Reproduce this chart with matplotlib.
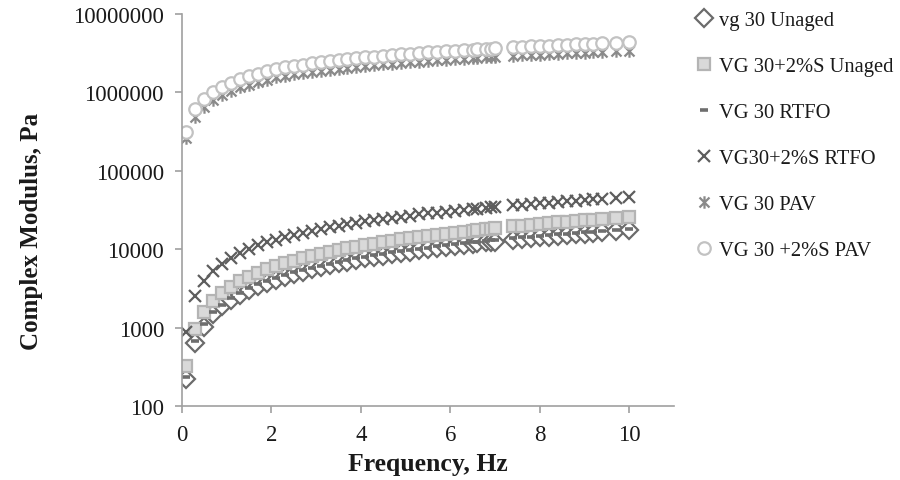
import matplotlib
matplotlib.use("Agg")
import matplotlib.pyplot as plt
from matplotlib.path import Path
from matplotlib.ticker import FixedLocator, FuncFormatter

plt.rcParams['font.family'] = ['Liberation Serif', 'DejaVu Serif']

freq = [0.1, 0.3, 0.5, 0.7, 0.9, 1.1, 1.3, 1.5, 1.7, 1.9, 2.1, 2.3, 2.5, 2.7, 2.9,
        3.1, 3.3, 3.5, 3.7, 3.9, 4.1, 4.3, 4.5, 4.7, 4.9, 5.1, 5.3, 5.5, 5.7, 5.9,
        6.1, 6.3, 6.5, 6.6, 6.8, 6.9, 7.0, 7.4, 7.6, 7.8, 8.0, 8.2, 8.4, 8.6, 8.8,
        9.0, 9.2, 9.4, 9.7, 10.0]

vg30_unaged = [221, 630, 1030, 1471, 1859, 2240, 2617, 2989, 3358, 3724, 4087, 4448,
               4807, 5164, 5518, 5871, 6222, 6573, 6921, 7269, 7615, 7960, 8304, 8646,
               8988, 9328, 9668, 10006, 10345, 10683, 11018, 11354, 11689, 11856, 12189,
               12356, 12523, 13187, 13517, 13848, 14177, 14507, 14836, 15166, 15494,
               15819, 16147, 16473, 16961, 17448]

vg30s_unaged = [327, 960, 1570, 2177, 2751, 3315, 3873, 4424, 4970, 5512, 6049, 6583,
                7114, 7643, 8167, 8689, 9209, 9728, 10243, 10758, 11270, 11781, 12290,
                12796, 13302, 13805, 14309, 14809, 15311, 15811, 16307, 16804, 17300,
                17547, 18040, 18287, 18534, 19517, 20005, 20495, 20982, 21470, 21957,
                22446, 22931, 23412, 23898, 24380, 25102, 25823]

vg30_rtfo = [235, 670, 1110, 1560, 1970, 2370, 2770, 3160, 3550, 3940, 4320, 4700,
             5080, 5450, 5820, 6190, 6560, 6930, 7290, 7660, 8020, 8380, 8740, 9100,
             9450, 9810, 10160, 10510, 10860, 11210, 11560, 11900, 12250, 12420, 12770,
             12940, 13110, 13790, 14130, 14470, 14800, 15140, 15470, 15800, 16130,
             16460, 16790, 17120, 17600, 18000]

vg30s_rtfo = [890, 2550, 3960, 5200, 6500, 7750, 8950, 10100, 11160, 12199, 13215,
              14214, 15194, 16159, 17110, 18047, 18972, 19887, 20790, 21687, 22571,
              23448, 24317, 25178, 26030, 26876, 27717, 28550, 29377, 30200, 31015,
              31826, 32630, 33034, 33830, 34228, 34623, 36199, 36979, 37756, 38526,
              39297, 40062, 40823, 41581, 42336, 43088, 43834, 44948, 46058]

vg30_pav = [2.6e5, 4.9e5, 6.5e5, 7.9e5, 9.2e5, 1.04e6, 1.16e6, 1.26e6, 1.36e6, 1.45e6,
            1.558e6, 1.631e6, 1.700e6, 1.767e6, 1.831e6, 1.894e6, 1.954e6, 2.012e6,
            2.069e6, 2.124e6, 2.178e6, 2.230e6, 2.282e6, 2.331e6, 2.381e6, 2.429e6,
            2.476e6, 2.523e6, 2.568e6, 2.612e6, 2.656e6, 2.700e6, 2.742e6, 2.763e6,
            2.805e6, 2.825e6, 2.845e6, 2.926e6, 2.965e6, 3.004e6, 3.042e6, 3.079e6,
            3.117e6, 3.154e6, 3.190e6, 3.227e6, 3.262e6, 3.297e6, 3.349e6, 3.401e6]

vg30s_pav = [3.1e5, 6.1e5, 8.2e5, 1.0e6, 1.17e6, 1.33e6, 1.48e6, 1.61e6, 1.74e6, 1.86e6,
             1.998e6, 2.091e6, 2.180e6, 2.266e6, 2.348e6, 2.428e6, 2.505e6, 2.580e6,
             2.652e6, 2.723e6, 2.792e6, 2.859e6, 2.925e6, 2.989e6, 3.052e6, 3.114e6,
             3.174e6, 3.234e6, 3.292e6, 3.349e6, 3.405e6, 3.461e6, 3.515e6, 3.542e6,
             3.596e6, 3.622e6, 3.648e6, 3.751e6, 3.801e6, 3.851e6, 3.900e6, 3.948e6,
             3.996e6, 4.044e6, 4.090e6, 4.137e6, 4.182e6, 4.227e6, 4.294e6, 4.360e6]

labels = ["vg 30 Unaged", "VG 30+2%S Unaged", "VG 30 RTFO", "VG30+2%S RTFO",
          "VG 30 PAV", "VG 30 +2%S PAV"]
y_ticks = [100, 1000, 10000, 100000, 1000000, 10000000]
x_ticks = [0, 2, 4, 6, 8, 10]

star = Path([(-1, -1), (1, 1), (-1, 1), (1, -1), (0, -1.25), (0, 1.25)],
            [Path.MOVETO, Path.LINETO, Path.MOVETO, Path.LINETO, Path.MOVETO, Path.LINETO])

fig = plt.figure(figsize=(9, 4.81), dpi=100)
ax = fig.add_axes([182 / 900, 1 - 407 / 481, 492 / 900, 392 / 481])

styles = [
    dict(marker='D', ms=9, mfc='white', mec='#6b6b6b', mew=1.6),
    dict(marker='s', ms=8.5, mfc='#d9d9d9', mec='#b4b4b4', mew=1.6),
    dict(marker='_', ms=6, mec='#6e6e6e', mew=2.6),
    dict(marker='x', ms=9, mec='#5e5e5e', mew=1.6),
    dict(marker=star, ms=9, mec='#8a8a8a', mew=1.6),
    dict(marker='o', ms=9, mfc='white', mec='#c2c2c2', mew=1.6),
]
series = [vg30_unaged, vg30s_unaged, vg30_rtfo, vg30s_rtfo, vg30_pav, vg30s_pav]
for vals, st, lab in zip(series, styles, labels):
    ax.plot(freq, vals, linestyle='none', label=lab, **st)

ax.set_yscale('log')
ax.set_ylim(100, 1e7)
ax.set_xlim(0, 11)
ax.yaxis.set_major_locator(FixedLocator(y_ticks))
ax.yaxis.set_minor_locator(FixedLocator([]))
ax.yaxis.set_major_formatter(FuncFormatter(lambda v, p: "%d" % round(v)))
ax.xaxis.set_major_locator(FixedLocator(x_ticks))
ax.xaxis.set_major_formatter(FuncFormatter(lambda v, p: "%d" % round(v)))

for s in ['top', 'right']:
    ax.spines[s].set_visible(False)
for s in ['left', 'bottom']:
    ax.spines[s].set_color('#a0a0a0')
    ax.spines[s].set_linewidth(1.2)
ax.tick_params(axis='both', which='major', length=5, width=1.2, color='#a0a0a0',
               labelsize=16.5, labelcolor='#1a1a1a', direction='out')
ax.tick_params(axis='y', pad=8)
ax.tick_params(axis='x', pad=8)

ax.set_ylabel("Complex Modulus, Pa", fontsize=18, fontweight='bold', color='#1a1a1a')
ax.yaxis.set_label_coords(-0.283, 0.449)
ax.set_xlabel("Frequency, Hz", fontsize=18.5, fontweight='bold', color='#1a1a1a')
ax.xaxis.set_label_coords(0.50, -0.118)

leg = ax.legend(loc='upper left', bbox_to_anchor=(695 / 900, 1 - 11.5 / 481),
                bbox_transform=fig.transFigure, frameon=False, fontsize=14.8,
                numpoints=1, handlelength=0.9, handletextpad=0.25, labelspacing=1.3,
                borderpad=0, borderaxespad=0)
for t in leg.get_texts():
    t.set_color('#1a1a1a')

fig.savefig("out.png", dpi=100)
